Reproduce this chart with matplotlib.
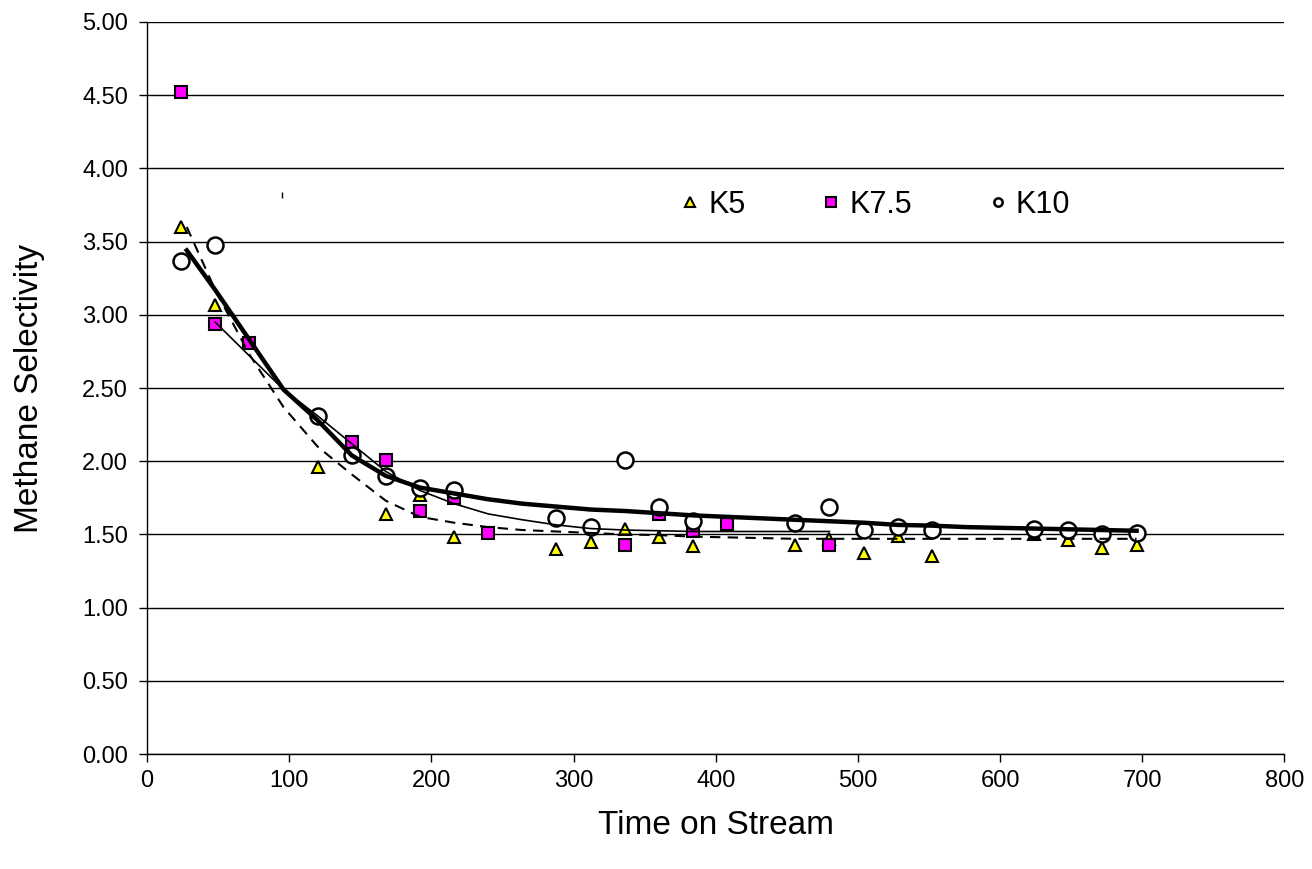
import matplotlib.pyplot as plt

plt.rcParams['font.family'] = ['Liberation Sans', 'DejaVu Sans']

# measured points
k5_t = [24, 48, 120, 168, 192, 216, 288, 312, 336, 360, 384, 456, 480, 504, 528, 552, 624, 648, 672, 696]
k5_s = [3.60, 3.07, 1.96, 1.64, 1.77, 1.48, 1.40, 1.45, 1.54, 1.48, 1.42, 1.43, 1.47, 1.37, 1.49, 1.35, 1.50, 1.46, 1.41, 1.43]

k75_t = [24, 48, 72, 144, 168, 192, 216, 240, 336, 360, 384, 408, 480]
k75_s = [4.52, 2.94, 2.81, 2.13, 2.01, 1.66, 1.75, 1.51, 1.43, 1.64, 1.52, 1.57, 1.43]

k10_t = [24, 48, 120, 144, 168, 192, 216, 288, 312, 336, 360, 384, 456, 480, 504, 528, 552, 624, 648, 672, 696]
k10_s = [3.37, 3.48, 2.31, 2.04, 1.90, 1.82, 1.80, 1.61, 1.55, 2.01, 1.69, 1.59, 1.58, 1.69, 1.53, 1.55, 1.53, 1.54, 1.53, 1.50, 1.51]

# model curves
fit_t = [28, 48, 72, 96, 120, 144, 168, 192, 216, 240, 264, 288, 312, 336, 360, 384, 408, 432, 456, 480,
         504, 528, 552, 576, 600, 624, 648, 672, 696]
fit_k10 = [3.44, 3.17, 2.83, 2.49, 2.28, 2.04, 1.90, 1.82, 1.78, 1.74, 1.71, 1.69, 1.67, 1.66, 1.645, 1.63,
           1.62, 1.61, 1.60, 1.59, 1.58, 1.565, 1.56, 1.55, 1.545, 1.54, 1.535, 1.53, 1.525]
fit_k5 = [3.60, 3.17, 2.73, 2.37, 2.10, 1.91, 1.73, 1.62, 1.58, 1.55, 1.53, 1.52, 1.51, 1.50, 1.495, 1.485,
          1.48, 1.475, 1.47, 1.47, 1.47, 1.47, 1.47, 1.47, 1.47, 1.47, 1.47, 1.47, 1.47]
fit75_t = [48, 72, 96, 120, 144, 168, 192, 216, 240, 264, 288, 312, 336, 360, 384, 408, 432, 456, 480]
fit_k75 = [2.95, 2.72, 2.49, 2.31, 2.12, 1.93, 1.80, 1.71, 1.64, 1.60, 1.565, 1.54, 1.53, 1.525, 1.52,
           1.52, 1.52, 1.52, 1.52]

fig = plt.figure(figsize=(13.12, 8.69), dpi=100)
ax = fig.add_axes([0.112, 0.1323, 0.867, 0.8424])

ax.plot(k5_t, k5_s, '^', ms=8, mfc='#ffff00', mec='black', mew=1.5, ls='none', label='K5', zorder=3)
ax.plot(k75_t, k75_s, 's', ms=8.5, mfc='#ff00ff', mec='black', mew=1.5, ls='none', label='K7.5', zorder=3)
ax.plot(k10_t, k10_s, 'o', ms=11.5, mfc='white', mec='black', mew=1.8, ls='none', label='K10', zorder=3)

ax.plot(fit_t, fit_k10, color='black', lw=3.2, zorder=4)
ax.plot(fit75_t, fit_k75, color='black', lw=1.2, zorder=4)
ax.plot(fit_t, fit_k5, color='black', lw=1.5, dashes=(5, 3.5), zorder=4)

# stray mark left in the original chart
ax.plot([95], [3.82], marker='|', ms=4, color='black', zorder=4)

ax.set_xlim(0, 800)
ax.set_ylim(0, 5)
ax.set_xticks(range(0, 801, 100))
ax.set_yticks([i * 0.5 for i in range(11)])
ax.set_yticklabels([f'{i * 0.5:.2f}' for i in range(11)])
ax.tick_params(labelsize=17, length=5.5, width=1, direction='out', pad=8)
ax.tick_params(axis='x', pad=6)

ax.grid(axis='y', color='black', lw=1)
ax.set_axisbelow(True)
for s in ['top', 'right']:
    ax.spines[s].set_visible(False)
for s in ['left', 'bottom']:
    ax.spines[s].set_linewidth(1)

ax.set_xlabel('Time on Stream', fontsize=24, labelpad=13)
ax.set_ylabel('Methane Selectivity', fontsize=24, labelpad=27)

leg = ax.legend(loc='center left', bbox_to_anchor=(0.4693, 0.75), ncol=3, frameon=False, fontsize=22,
                borderpad=0, borderaxespad=0, handletextpad=0.3, columnspacing=2.5, handlelength=0.6)
for h, ms in zip(leg.legend_handles, [7, 6.5, 6]):
    h.set_markersize(ms)

fig.savefig('out.png', dpi=100)
